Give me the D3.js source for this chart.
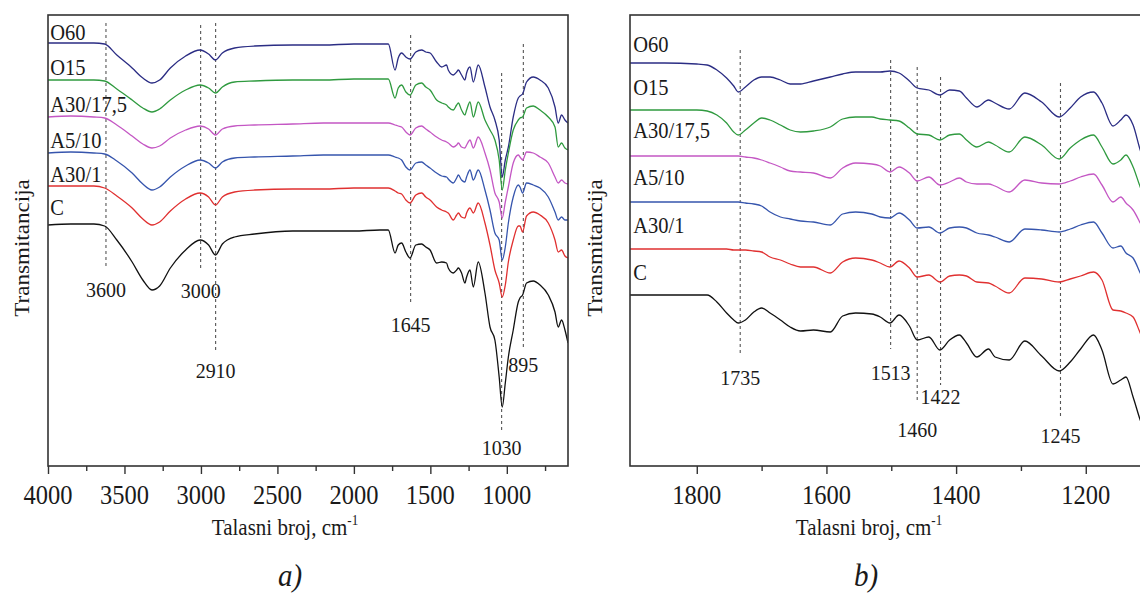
<!DOCTYPE html>
<html>
<head>
<meta charset="utf-8">
<script src="https://cdnjs.cloudflare.com/ajax/libs/d3/7.8.5/d3.min.js"></script>
<style>
  html, body { margin: 0; padding: 0; background: #fff; }
  svg { display: block; font-family: "Liberation Serif", "Times New Roman", serif; }
</style>
</head>
<body>
<svg id="chart" width="1140" height="594"></svg>
<script>
// ---- data (transmittance in arbitrary units, spectra stacked) ----
const seriesNames = ['O60', 'O15', 'A30/17,5', 'A5/10', 'A30/1', 'C'];

// panel a: full range
const waveA = [4000, 3850, 3700, 3630, 3550, 3450, 3380, 3320, 3270, 3200, 3100, 3005, 2950, 2905, 2860, 2780,
  2650, 2400, 2200, 2000, 1830, 1775, 1731, 1710, 1688, 1660, 1633, 1595, 1557, 1530, 1502, 1459, 1426, 1394,
  1383, 1350, 1328, 1317, 1296, 1274, 1263, 1241, 1219, 1187, 1143, 1110, 1078, 1050, 1030, 1010, 990, 958,
  925, 914, 897, 871, 827, 783, 729, 685, 664, 642, 620, 600];
const o60A = [423, 423, 423, 422, 411, 398, 388, 383, 386, 398, 410, 416, 412, 406, 413, 418, 420, 421, 421, 422,
  422, 422, 396, 408, 413, 409, 407, 414, 416, 414, 413, 404, 399, 401, 396, 391, 394, 396, 391, 386, 393, 399,
  384, 401, 379, 359, 346, 326, 289, 306, 319, 349, 368, 370, 372, 384, 389, 386, 378, 359, 343, 351, 346, 343];
const o15A = [386, 386, 386, 385, 377, 366, 358, 354, 357, 366, 376, 381, 378, 373, 379, 384, 385, 386, 386, 387,
  387, 387, 368, 378, 381, 374, 371, 381, 383, 379, 376, 366, 363, 361, 359, 356, 361, 363, 356, 351, 356, 364,
  349, 364, 346, 336, 326, 306, 276, 296, 313, 336, 346, 348, 349, 358, 360, 356, 349, 339, 319, 323, 318, 316];
const a3017A = [349, 350, 349, 348, 341, 330, 322, 318, 320, 328, 336, 340, 337, 331, 337, 340, 341, 342, 343, 343,
  343, 343, 341, 340, 339, 334, 331, 338, 340, 337, 334, 329, 326, 324, 323, 319, 321, 323, 319, 318, 321, 326,
  318, 329, 313, 296, 273, 264, 248, 264, 279, 303, 311, 309, 306, 314, 313, 309, 303, 289, 283, 286, 283, 282];
const a510A = [313, 314, 313, 312, 305, 293, 282, 276, 279, 289, 300, 306, 303, 298, 304, 308, 309, 310, 311, 311,
  311, 311, 309, 308, 306, 299, 296, 303, 304, 301, 298, 293, 290, 289, 287, 283, 288, 291, 286, 284, 289, 296,
  286, 296, 276, 256, 233, 226, 206, 219, 243, 269, 281, 279, 273, 283, 281, 278, 269, 254, 246, 249, 246, 246];
const a301A = [280, 280, 280, 278, 270, 258, 247, 241, 244, 255, 267, 273, 269, 261, 269, 274, 276, 277, 277, 278,
  278, 278, 275, 273, 272, 266, 263, 271, 273, 269, 266, 259, 256, 254, 253, 246, 251, 253, 249, 248, 253, 258,
  253, 263, 243, 221, 196, 183, 169, 181, 204, 226, 240, 240, 234, 250, 254, 251, 243, 226, 214, 216, 210, 208];
const cA = [241, 242, 242, 240, 226, 204, 186, 176, 180, 198, 216, 226, 221, 211, 222, 229, 232, 235, 235, 235,
  236, 236, 213, 221, 223, 214, 208, 221, 222, 219, 216, 203, 204, 203, 198, 193, 196, 198, 193, 183, 189, 196,
  179, 204, 173, 139, 126, 89, 59, 83, 109, 136, 164, 168, 171, 183, 185, 181, 171, 154, 139, 146, 136, 123];

// panel b: fingerprint region
const waveB = [1903, 1850, 1800, 1784, 1769, 1754, 1743, 1736, 1725, 1712, 1700, 1687, 1671, 1656, 1640, 1620,
  1594, 1575, 1555, 1530, 1517, 1502, 1488, 1472, 1460, 1442, 1425, 1410, 1395, 1384, 1368, 1350, 1340, 1318,
  1294, 1268, 1241, 1224, 1208, 1188, 1175, 1158, 1146, 1138, 1127, 1116, 1100];
const o60B = [403, 403, 402, 401, 396, 388, 380, 374, 379, 386, 389, 389, 386, 382, 382, 385, 389, 392, 394, 394,
  394, 395, 393, 385, 378, 376, 371, 376, 375, 368, 359, 366, 363, 357, 373, 364, 349, 358, 369, 374, 363, 340,
  346, 351, 341, 316, 291];
const o15B = [356, 356, 356, 355, 351, 343, 334, 331, 336, 343, 348, 346, 341, 336, 334, 335, 339, 347, 349, 349,
  347, 346, 345, 338, 332, 331, 326, 331, 332, 326, 319, 324, 321, 314, 329, 321, 307, 318, 326, 331, 319, 302,
  306, 311, 299, 279, 256];
const a3017B = [310, 310, 310, 310, 310, 310, 310, 310, 309, 308, 306, 303, 299, 295, 294, 293, 288, 298, 303, 302,
  300, 294, 299, 293, 285, 289, 281, 284, 288, 284, 282, 282, 280, 274, 286, 283, 282, 285, 289, 292, 281, 264,
  269, 263, 256, 243, 221];
const a510B = [264, 264, 264, 264, 264, 264, 264, 264, 263, 262, 260, 254, 249, 247, 245, 244, 241, 252, 254, 252,
  249, 248, 253, 246, 238, 239, 233, 238, 239, 238, 233, 231, 229, 224, 237, 236, 234, 237, 241, 244, 233, 218,
  220, 213, 208, 193, 171];
const a301B = [217, 217, 217, 217, 217, 217, 216, 216, 216, 215, 214, 209, 206, 202, 199, 199, 193, 204, 208, 206,
  203, 199, 205, 198, 189, 191, 184, 190, 191, 190, 184, 183, 180, 173, 188, 187, 184, 187, 190, 194, 186, 156,
  155, 153, 149, 133, 111];
const cB = [171, 171, 171, 171, 164, 153, 146, 143, 146, 154, 158, 153, 146, 139, 135, 136, 134, 150, 153, 152,
  149, 143, 151, 140, 126, 129, 116, 126, 131, 123, 109, 117, 109, 106, 125, 110, 95, 104, 117, 131, 116, 82,
  86, 89, 69, 46, 21];

// marked bands: where the dashed line sits, its label, and its extent (same units as spectra)
const peakPosA = [3621, 3002, 2904, 1629, 1034, 892];
const peakLabelA = ['3600', '3000', '2910', '1645', '1030', '895'];
const peakTopA = [443, 441, 443, 431, 393, 422];
const peakBottomA = [199, 198, 114, 164, 36, 119];
const peakTextA = [169, 168, 88, 134, 11, 94];

const peakPosB = [1733, 1501, 1460, 1424, 1239];
const peakLabelB = ['1735', '1513', '1460', '1422', '1245'];
const peakTopB = [416, 406, 399, 389, 383];
const peakBottomB = [111, 117, 63, 81, 48];
const peakTextB = [81, 86, 29, 62, 23];

const ticksA = [4000, 3500, 3000, 2500, 2000, 1500, 1000];
const minorA = [3750, 3250, 2750, 2250, 1750, 1250, 750];
const ticksB = [1800, 1600, 1400, 1200];
const minorB = [1700, 1500, 1300, 1100];

// name label heights (same units), placed at the left of each panel
const nameAtA = [426, 391, 354, 318, 284, 251];
const nameAtB = [414, 371, 328, 281, 233, 186];

const colors = ['#2b2d84', '#2f9a3f', '#c457c4', '#3655ad', '#e03030', '#111111'];

// ---- drawing ----
const svg = d3.select('#chart');
const stretch = 1.1;   // the source figure is slightly taller than wide
const plotTop = 15, plotBottom = 466;

const y = d3.scaleLinear().domain([0, 451]).range([plotBottom, plotTop]);

function addText(g, x, yy, str, size, anchor) {
  return g.append('text')
    .attr('transform', `translate(${x},${yy}) scale(1,${stretch})`)
    .attr('text-anchor', anchor || 'start')
    .attr('fill', '#1a1a1a')
    .style('font-size', size + 'px')
    .text(str);
}

function drawPanel(p) {
  const g = svg.append('g');
  const x = p.x;
  const left = x.range()[0], right = x.range()[1];

  const clipId = 'clip-' + p.id;
  svg.append('clipPath').attr('id', clipId)
    .append('rect').attr('x', left).attr('y', plotTop)
    .attr('width', right - left).attr('height', plotBottom - plotTop);

  // dashed band markers
  const marks = g.append('g');
  p.peaks.forEach((w, i) => {
    marks.append('line')
      .attr('x1', x(w)).attr('x2', x(w))
      .attr('y1', y(p.peakTop[i])).attr('y2', y(p.peakBottom[i]))
      .attr('stroke', '#555').attr('stroke-width', 1.1)
      .attr('stroke-dasharray', '3,3');
    addText(marks, x(w), y(p.peakText[i]), p.peakLabels[i], 20, 'middle');
  });

  // spectra
  const lines = g.append('g').attr('clip-path', `url(#${clipId})`);
  p.series.forEach((vals, k) => {
    const line = d3.line()
      .x((d, i) => x(p.waves[i]))
      .y(d => y(d))
      .curve(d3.curveMonotoneX);
    lines.append('path')
      .datum(vals)
      .attr('d', line)
      .attr('fill', 'none')
      .attr('stroke', colors[k])
      .attr('stroke-width', 1.3)
      .attr('stroke-linejoin', 'round');
  });

  // series names
  seriesNames.forEach((n, k) => {
    addText(g, x(p.nameWave), y(p.nameAt[k]), n, 20.5, 'start');
  });

  // frame
  g.append('rect')
    .attr('x', left).attr('y', plotTop)
    .attr('width', right - left).attr('height', plotBottom - plotTop)
    .attr('fill', 'none').attr('stroke', '#333').attr('stroke-width', 1.6);

  // x axis: major + minor ticks, outward
  const axMajor = g.append('g').attr('transform', `translate(0,${plotBottom})`)
    .call(d3.axisBottom(x).tickValues(p.ticks).tickSize(8).tickFormat(''));
  const axMinor = g.append('g').attr('transform', `translate(0,${plotBottom})`)
    .call(d3.axisBottom(x).tickValues(p.minor).tickSize(5).tickFormat(''));
  [axMajor, axMinor].forEach(a => {
    a.select('.domain').remove();
    a.selectAll('line').attr('stroke', '#333').attr('stroke-width', 1.4);
  });
  p.ticks.forEach(t => addText(g, x(t), 504, t, 24.5, 'middle'));

  // x title with superscript
  const title = g.append('text')
    .attr('transform', `translate(${p.titleX},535) scale(1,${stretch})`)
    .attr('text-anchor', 'middle').attr('fill', '#1a1a1a')
    .style('font-size', '21px');
  title.append('tspan').text('Talasni broj, cm');
  title.append('tspan').attr('dy', -9).style('font-size', '13px').text('-1');

  // y title
  g.append('text')
    .attr('transform', `translate(${p.yTitleX},248) rotate(-90) scale(${stretch},1)`)
    .attr('text-anchor', 'middle').attr('fill', '#1a1a1a')
    .style('font-size', '21px')
    .text('Transmitancija');

  // panel letter
  addText(g, p.letterX, 586, p.letter, 29, 'middle').style('font-style', 'italic');
}

drawPanel({
  id: 'a',
  x: d3.scaleLinear().domain([4000, 600]).range([48, 568]),
  waves: waveA,
  series: [o60A, o15A, a3017A, a510A, a301A, cA],
  peaks: peakPosA, peakLabels: peakLabelA, peakTop: peakTopA, peakBottom: peakBottomA, peakText: peakTextA,
  ticks: ticksA, minor: minorA,
  nameWave: 3985, nameAt: nameAtA,
  titleX: 285, yTitleX: 29, letter: 'a)', letterX: 290
});

drawPanel({
  id: 'b',
  x: d3.scaleLinear().domain([1903, 1100]).range([630, 1150.6]),
  waves: waveB,
  series: [o60B, o15B, a3017B, a510B, a301B, cB],
  peaks: peakPosB, peakLabels: peakLabelB, peakTop: peakTopB, peakBottom: peakBottomB, peakText: peakTextB,
  ticks: ticksB, minor: minorB,
  nameWave: 1898, nameAt: nameAtB,
  titleX: 869, yTitleX: 602, letter: 'b)', letterX: 866
});
</script>
</body>
</html>
